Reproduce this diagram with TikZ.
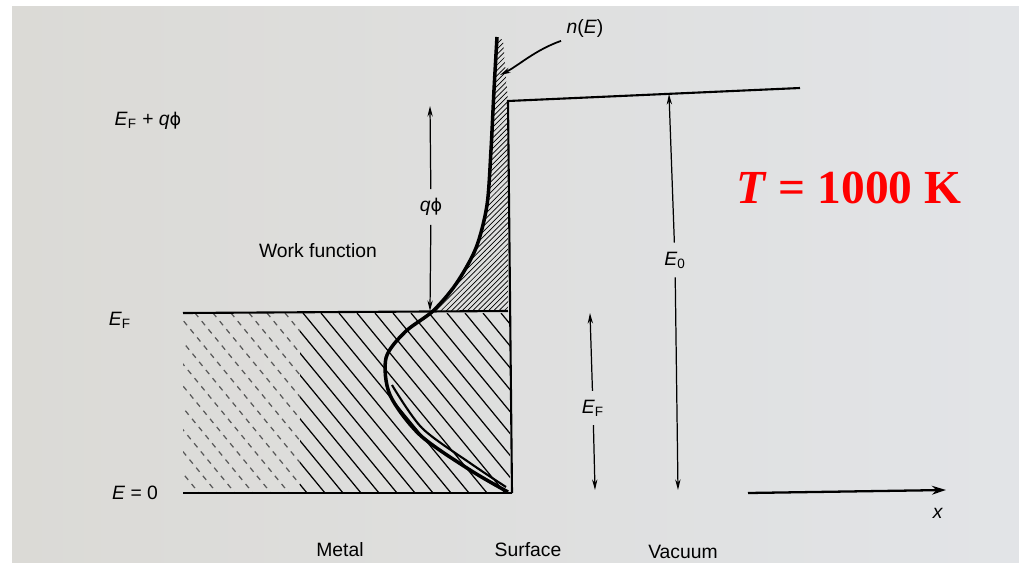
\documentclass[tikz,border=0pt]{standalone}
\usepackage{fontspec}
\setmainfont{Liberation Sans}
\newfontfamily\redserif{Liberation Serif}
\newfontfamily\phifont{DejaVu Sans}
\usetikzlibrary{arrows.meta, patterns, positioning}
\definecolor{pageleft}{RGB}{219,218,214}
\definecolor{pageright}{RGB}{226,228,231}
\newcommand{\qphi}{\textit{q}{\phifont\fontsize{10}{12}\selectfont ϕ}}

\begin{document}
\begin{tikzpicture}[x=0.02cm, y=-0.02cm,
    lbl/.style={font=\fontsize{11}{13}\selectfont, inner sep=1pt},
    lvl/.style={line width=1.2pt},
    dim/.style={line width=0.7pt, -{Stealth[length=6pt,width=3pt]}},
    hatch/.style={line width=0.7pt},
    ncurve/.style={line width=2pt, line join=round}]
      \useasboundingbox (0,0) rectangle (1019,562);
      \shade[left color=pageleft, right color=pageright] (12,6) rectangle (1019,562);

      % metal hatching
      \begin{scope}
        \clip (183,313) rectangle (300,493);
        \foreach \x in {33,51,...,520}
          \draw[hatch, gray!70!black, dash pattern=on 3pt off 3pt] (\x,313) -- ++(148,180);
      \end{scope}
      \begin{scope}
        \clip (300,313) rectangle (510,493);
        \foreach \x in {33,51,...,520}
          \draw[hatch] (\x,313) -- ++(148,180);
      \end{scope}

      % tail of n(E) above E_F
      \path[pattern=north east lines]
        plot[smooth] coordinates {(497,37) (494,90) (491,150) (487,205) (476,248) (456,284) (433,311)}
        -- (508,311) -- (508,101) -- (503,40) -- cycle;

      % levels
      \coordinate (vac0) at (508,101);
      \coordinate (vac1) at (800,88);
      \coordinate (ef0) at (183,313);
      \coordinate (ef1) at (508,311);
      \coordinate (zero0) at (183,493);
      \coordinate (zero1) at (512,493);
      \draw[lvl] (ef0) -- (ef1);
      \draw[lvl] (zero0) -- (zero1);
      \draw[lvl] (zero1) -- (vac0) -- (vac1);

      % n(E)
      \draw[ncurve] plot[smooth] coordinates {(497,37) (494,90) (491,150) (487,205) (476,248) (456,284) (433,311) (405,332) (386,358) (390,395) (420,435) (470,470) (508,492)};
      \draw[line width=1.2pt] plot[smooth] coordinates {(392,385) (422,428) (470,463) (506,487)};

      % labels
      \node[lbl] (efq) at (148,121) {\textit{E}\textsubscript{F} + \qphi};
      \node[lbl] (wf) at (318,251) {Work function};
      \node[lbl] (efl) at (120,320) {\textit{E}\textsubscript{F}};
      \node[lbl] (ezero) at (135,493) {\textit{E} = 0};
      \node[lbl] (metal) at (340,550) {Metal};
      \node[lbl] (surf) at (528,550) {Surface};
      \node[lbl] (vacuum) at (683,552) {Vacuum};
      \node[lbl] (nE) at (585,28) {\textit{n}(\textit{E})};
      \node[lbl, inner sep=5pt] (qphi) at (431,207) {\qphi};
      \node[lbl, inner sep=5pt] (ezerol) at (675,260) {\textit{E}\textsubscript{0}};
      \node[lbl, inner sep=5pt] (efr) at (593,408) {\textit{E}\textsubscript{F}};
      \node[lbl] (xlab) at (938,513) {\textit{x}};
      \node[text=red, font=\redserif\bfseries\fontsize{27}{30}\selectfont] (temp) at (849,188) {\textit{T} = 1000 K};

      % arrows
      \coordinate (qtop) at (430,106);
      \coordinate (qbot) at (430,311);
      \coordinate (etop) at (669,94);
      \coordinate (ebot) at (678,490);
      \coordinate (ftop) at (590,313);
      \coordinate (fbot) at (595,490);
      \coordinate (xs) at (748,493);
      \coordinate (xe) at (946,490);
      \coordinate (ntip) at (500,75);
      \draw[dim] (qphi) -- (qtop);
      \draw[dim] (qphi) -- (qbot);
      \draw[dim] (ezerol) -- (etop);
      \draw[dim] (ezerol) -- (ebot);
      \draw[dim] (efr) -- (ftop);
      \draw[dim] (efr) -- (fbot);
      \draw[line width=1.3pt, -{Stealth[length=8pt,width=5pt]}] (xs) -- (xe);
      \draw[dim, line width=1pt] ([xshift=-2pt,yshift=-1pt]nE.south west) .. controls (535,50) and (518,66) .. (ntip);
    \end{tikzpicture}
\end{document}
